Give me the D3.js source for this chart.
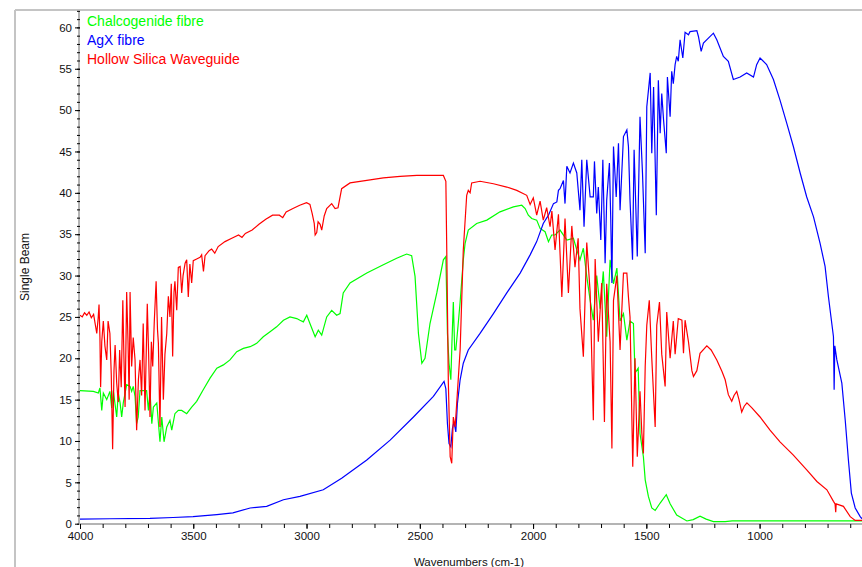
<!DOCTYPE html>
<html>
<head>
<meta charset="utf-8">
<script src="https://cdn.jsdelivr.net/npm/d3@7"></script>
<style>
  body { margin: 0; background: #fff; }
  svg { display: block; font-family: "Liberation Sans", Arial, sans-serif; }
</style>
</head>
<body>
<svg id="chart" width="862" height="567"></svg>
<script>
// legend / series names, in drawing order
const seriesNames = ["Chalcogenide fibre", "AgX fibre", "Hollow Silica Waveguide"];

// [wavenumber (cm-1), single beam]
const chalcogenide = [
  [4000,16.1],[3941,16.0],[3919,15.8],[3912,16.4],[3904,13.7],[3897,15.8],[3882,15.0],[3868,16.0],
  [3860,14.0],[3853,16.1],[3838,12.9],[3831,15.8],[3823,14.6],[3816,12.9],[3809,14.6],[3794,16.8],
  [3779,16.6],[3772,16.0],[3765,16.6],[3757,15.4],[3750,12.1],[3743,12.9],[3735,16.1],[3721,16.1],
  [3706,16.1],[3698,13.7],[3691,16.0],[3683,12.1],[3676,14.1],[3661,14.6],[3647,9.9],[3639,12.9],
  [3629,9.9],[3617,11.7],[3603,12.5],[3595,11.3],[3581,13.3],[3566,13.7],[3551,13.7],[3529,13.3],
  [3507,14.1],[3485,14.8],[3456,16.2],[3426,17.6],[3396,18.8],[3367,19.2],[3338,19.8],[3308,20.8],
  [3279,21.2],[3249,21.4],[3220,21.8],[3191,22.6],[3161,23.2],[3132,23.8],[3102,24.6],[3073,25.0],
  [3043,24.8],[3029,24.6],[3014,24.4],[2999,25.2],[2985,24.2],[2962,22.6],[2948,23.4],[2933,22.8],
  [2911,25.0],[2889,25.8],[2867,25.2],[2852,25.4],[2838,27.9],[2808,29.1],[2734,30.3],[2661,31.3],
  [2602,32.1],[2558,32.6],[2536,32.4],[2521,29.9],[2506,23.0],[2491,19.4],[2477,20.0],[2455,24.2],
  [2425,27.9],[2396,31.9],[2385,32.3],[2378,23.0],[2371,19.4],[2363,17.4],[2358,22.0],[2352,26.8],
  [2346,21.0],[2341,21.0],[2331,24.0],[2322,26.8],[2308,31.9],[2300,33.9],[2286,35.5],[2249,36.3],
  [2204,36.7],[2146,37.7],[2087,38.3],[2050,38.5],[2035,38.1],[2021,37.3],[2006,36.9],[1984,36.7],
  [1969,35.7],[1947,35.3],[1932,34.1],[1918,34.9],[1903,34.9],[1881,35.5],[1851,34.3],[1822,34.5],
  [1807,33.1],[1793,31.9],[1778,33.3],[1763,29.9],[1748,27.0],[1734,24.6],[1719,30.0],[1704,26.0],
  [1690,30.5],[1675,22.6],[1660,31.9],[1645,29.0],[1630,30.9],[1616,24.5],[1601,25.4],[1586,22.2],
  [1572,24.5],[1557,24.2],[1550,18.2],[1536,18.8],[1528,10.9],[1513,8.1],[1505,5.3],[1491,3.3],
  [1476,1.9],[1461,1.6],[1439,2.5],[1412,3.5],[1395,2.4],[1366,1.05],[1321,0.33],[1293,0.5],
  [1263,0.9],[1236,0.55],[1204,0.25],[1152,0.25],[1121,0.35],[548,0.35]
];

const agx = [
  [4000,0.55],[3868,0.6],[3691,0.65],[3589,0.75],[3501,0.85],[3396,1.1],[3325,1.3],[3249,1.9],
  [3176,2.1],[3102,2.9],[3029,3.3],[2926,4.1],[2845,5.5],[2734,7.7],[2631,10.1],[2528,12.9],
  [2440,15.4],[2393,17.2],[2385,16.3],[2378,12.1],[2371,9.7],[2363,9.3],[2356,11.5],[2349,12.3],
  [2341,11.1],[2334,14.5],[2322,17.4],[2308,19.4],[2286,21.0],[2234,23.0],[2175,25.4],[2116,27.9],
  [2057,30.3],[2013,32.5],[1984,34.1],[1955,36.3],[1932,37.3],[1910,38.7],[1895,38.9],[1888,40.3],
  [1881,40.5],[1866,41.5],[1859,38.7],[1851,43.2],[1837,42.4],[1822,43.6],[1807,42.4],[1793,37.9],
  [1785,44.0],[1775,35.9],[1763,44.0],[1748,39.5],[1734,39.5],[1729,43.8],[1719,37.5],[1712,40.7],
  [1701,34.3],[1692,44.0],[1682,31.5],[1675,39.1],[1663,43.6],[1657,36.7],[1652,29.1],[1645,45.6],
  [1633,39.5],[1623,46.0],[1616,37.9],[1601,46.8],[1586,47.6],[1579,45.6],[1572,39.1],[1561,31.9],
  [1554,45.2],[1540,32.3],[1528,49.2],[1517,42.4],[1505,32.7],[1498,50.4],[1483,54.5],[1476,44.8],
  [1468,52.8],[1456,37.3],[1447,53.6],[1439,47.2],[1432,52.0],[1424,48.8],[1412,44.8],[1407,54.0],
  [1395,49.2],[1388,54.7],[1381,53.2],[1373,55.5],[1366,56.5],[1359,55.9],[1351,58.5],[1339,56.3],
  [1329,59.4],[1314,59.1],[1307,59.5],[1277,59.6],[1270,58.9],[1258,57.1],[1248,58.1],[1226,58.7],
  [1204,59.3],[1189,58.5],[1160,56.5],[1138,55.9],[1116,53.7],[1086,54.0],[1057,54.5],[1027,54.0],
  [1013,55.5],[998,56.3],[969,55.5],[939,53.7],[910,51.2],[880,48.4],[851,45.6],[821,42.4],
  [792,39.5],[762,37.1],[733,33.9],[711,31.1],[696,27.4],[674,22.6],[671,16.2],[668,21.5],
  [659,19.8],[637,17.0],[622,12.5],[608,7.7],[595,3.7],[578,1.9],[556,0.85],[548,0.6]
];

const hollowSilica = [
  [4000,25.2],[3990,25.0],[3980,25.5],[3970,25.2],[3960,25.6],[3950,24.9],[3940,25.3],[3932,24.0],
  [3926,23.0],[3920,24.8],[3916,26.5],[3912,22.5],[3909,16.5],[3904,22.0],[3897,24.5],[3890,21.5],
  [3882,19.8],[3876,24.5],[3868,23.0],[3862,18.0],[3856,9.0],[3850,18.5],[3845,21.6],[3838,17.0],
  [3831,14.7],[3825,21.0],[3818,16.5],[3811,27.0],[3806,20.0],[3801,14.1],[3794,28.0],[3788,22.0],
  [3783,15.0],[3779,28.0],[3772,19.0],[3765,22.5],[3757,19.8],[3750,11.3],[3742,17.5],[3735,19.8],
  [3728,15.5],[3721,24.2],[3713,13.7],[3703,26.6],[3697,20.5],[3691,12.9],[3685,22.0],[3679,19.0],
  [3672,24.5],[3664,29.3],[3658,23.5],[3654,21.8],[3647,11.7],[3640,25.0],[3632,15.0],[3625,20.5],
  [3617,23.0],[3610,27.5],[3603,25.0],[3597,29.0],[3591,20.2],[3585,28.0],[3581,29.3],[3573,25.8],
  [3566,31.0],[3558,31.1],[3551,27.9],[3545,30.0],[3536,31.5],[3529,31.9],[3522,27.4],[3515,31.4],
  [3507,29.1],[3500,31.8],[3485,32.0],[3470,32.2],[3463,32.5],[3455,30.5],[3448,32.4],[3430,33.0],
  [3419,33.2],[3405,32.7],[3390,33.5],[3360,34.1],[3330,34.5],[3300,34.9],[3285,34.6],[3270,35.1],
  [3240,35.5],[3210,36.2],[3180,36.8],[3150,37.3],[3120,37.3],[3105,37.0],[3090,37.7],[3060,38.1],
  [3030,38.5],[3000,38.8],[2985,38.6],[2975,37.5],[2966,36.3],[2962,34.9],[2955,35.2],[2949,36.5],
  [2940,36.2],[2933,35.5],[2922,37.2],[2911,38.1],[2889,38.7],[2874,38.1],[2861,38.2],[2845,40.5],
  [2808,41.2],[2734,41.5],[2661,41.8],[2587,42.0],[2513,42.1],[2396,42.1],[2385,41.4],[2381,33.1],
  [2374,17.0],[2366,8.1],[2359,7.3],[2352,12.9],[2344,11.7],[2337,14.6],[2322,21.0],[2308,33.1],
  [2293,39.7],[2286,40.3],[2278,40.0],[2271,41.2],[2234,41.4],[2175,41.1],[2116,40.7],[2072,40.3],
  [2028,39.7],[2013,38.6],[1999,39.4],[1984,37.3],[1969,39.0],[1955,36.7],[1940,38.2],[1925,35.9],
  [1917,37.8],[1903,33.1],[1888,37.4],[1873,27.4],[1859,36.9],[1844,27.9],[1829,36.0],[1815,31.0],
  [1801,34.5],[1793,26.0],[1778,20.2],[1763,34.0],[1748,28.0],[1734,12.5],[1726,32.0],[1712,22.0],
  [1697,29.1],[1685,12.3],[1675,29.0],[1660,22.0],[1652,9.1],[1645,27.0],[1630,30.0],[1616,21.0],
  [1601,30.3],[1586,30.3],[1579,27.4],[1572,25.0],[1560,6.9],[1550,20.0],[1540,8.1],[1528,16.0],
  [1520,11.0],[1513,8.5],[1505,19.0],[1498,24.0],[1487,27.0],[1476,20.0],[1461,11.7],[1454,24.0],
  [1442,26.8],[1432,20.5],[1417,16.6],[1410,25.6],[1395,20.0],[1381,24.5],[1373,20.5],[1359,24.8],
  [1343,24.6],[1336,20.6],[1329,24.6],[1314,22.0],[1299,18.5],[1292,17.8],[1277,18.5],[1263,20.6],
  [1233,21.5],[1214,21.0],[1189,19.8],[1166,18.4],[1152,17.4],[1138,15.6],[1123,14.8],[1113,15.5],
  [1101,16.0],[1091,15.0],[1079,13.5],[1068,14.2],[1056,14.6],[1034,14.0],[998,12.9],[954,11.3],
  [910,9.9],[851,8.3],[792,6.5],[747,5.1],[703,4.1],[674,2.7],[667,2.4],[664,1.4],[662,2.4],
  [630,2.1],[600,0.85],[578,0.4],[548,0.4]
];

const yTickValues = [0,5,10,15,20,25,30,35,40,45,50,55,60];
const xTickValues = [4000,3500,3000,2500,2000,1500,1000];
const xLabel = "Wavenumbers (cm-1)";
const yLabel = "Single Beam";

const svg = d3.select("#chart");
const width = 862, height = 567;
const frameGray = "#c4c4c4", axisGray = "#b4b4b4";

// x runs from 4000 down, the window cuts it off on the right
let x = d3.scaleLinear().domain([4000, 548]).range([80, 862]);
let y = d3.scaleLinear().domain([0, 60]).range([523.7, 27.4]);
let axisY = 524, axisX = 79;

// outer frame (only left and top edges show)
svg.append("line").attr("x1", 15).attr("x2", 15).attr("y1", 10).attr("y2", height)
  .attr("stroke", frameGray).attr("stroke-width", 2);
svg.append("line").attr("x1", 15).attr("x2", width).attr("y1", 10).attr("y2", 10)
  .attr("stroke", frameGray).attr("stroke-width", 2);

// y axis: gray spine, minor ticks every 1, major every 5
svg.append("line").attr("x1", axisX).attr("x2", axisX).attr("y1", 11).attr("y2", axisY)
  .attr("stroke", axisGray).attr("stroke-width", 2);
let yMinor = svg.append("g").attr("transform", `translate(${axisX + 1},0)`)
  .call(d3.axisLeft(y).tickValues(d3.range(0, 63, 1)).tickSize(3).tickFormat("").tickSizeOuter(0));
yMinor.select(".domain").remove();
let yMajor = svg.append("g").attr("transform", `translate(${axisX + 1},0)`)
  .call(d3.axisLeft(y).tickValues(yTickValues).tickSize(5).tickPadding(3).tickSizeOuter(0).tickFormat(d3.format("d")));
yMajor.select(".domain").remove();
yMajor.selectAll("text").attr("font-size", "11.5px").attr("fill", "#111")
  .attr("font-family", "Liberation Sans, Arial, sans-serif");

// x axis
svg.append("line").attr("x1", axisX).attr("x2", width).attr("y1", axisY).attr("y2", axisY)
  .attr("stroke", axisGray).attr("stroke-width", 2);
let xMinor = svg.append("g").attr("transform", `translate(0,${axisY})`)
  .call(d3.axisBottom(x).tickValues(d3.range(4000, 500, -100)).tickSize(4).tickFormat("").tickSizeOuter(0));
xMinor.select(".domain").remove();
let xMajor = svg.append("g").attr("transform", `translate(0,${axisY})`)
  .call(d3.axisBottom(x).tickValues(xTickValues).tickSize(5).tickPadding(3).tickSizeOuter(0).tickFormat(d3.format("d")));
xMajor.select(".domain").remove();
xMajor.selectAll("text").attr("font-size", "11.5px").attr("fill", "#111")
  .attr("font-family", "Liberation Sans, Arial, sans-serif");

// axis titles
svg.append("text").text(xLabel)
  .attr("x", 469).attr("y", 562).attr("dy", "0.35em").attr("text-anchor", "middle")
  .attr("font-size", "11.5px").attr("fill", "#111");
svg.append("text").text(yLabel)
  .attr("transform", "translate(29,267) rotate(-90)").attr("text-anchor", "middle")
  .attr("font-size", "12px").attr("fill", "#111");

// spectra
let colors = d3.scaleOrdinal().domain(seriesNames).range(["#00ff00", "#0000ff", "#ff0000"]);
let allSeries = [chalcogenide, agx, hollowSilica];
let line = d3.line().x(d => x(d[0])).y(d => y(d[1]));

svg.append("defs").append("clipPath").attr("id", "plotClip")
  .append("rect").attr("x", axisX + 1).attr("y", 11).attr("width", width - axisX).attr("height", axisY - 11);

svg.append("g").attr("clip-path", "url(#plotClip)")
  .selectAll("path")
  .data(allSeries)
  .join("path")
  .attr("d", d => line(d))
  .attr("fill", "none")
  .attr("stroke", (d, i) => colors(seriesNames[i]))
  .attr("stroke-width", 1.2)
  .attr("stroke-linejoin", "miter");

// legend, top left inside the plot
svg.selectAll(".legendText")
  .data(seriesNames)
  .join("text")
  .attr("class", "legendText")
  .attr("x", 87)
  .attr("y", (d, i) => 21 + i * 19)
  .attr("dy", "0.35em")
  .attr("font-size", "14px")
  .attr("fill", d => colors(d))
  .text(d => d);
</script>
</body>
</html>
